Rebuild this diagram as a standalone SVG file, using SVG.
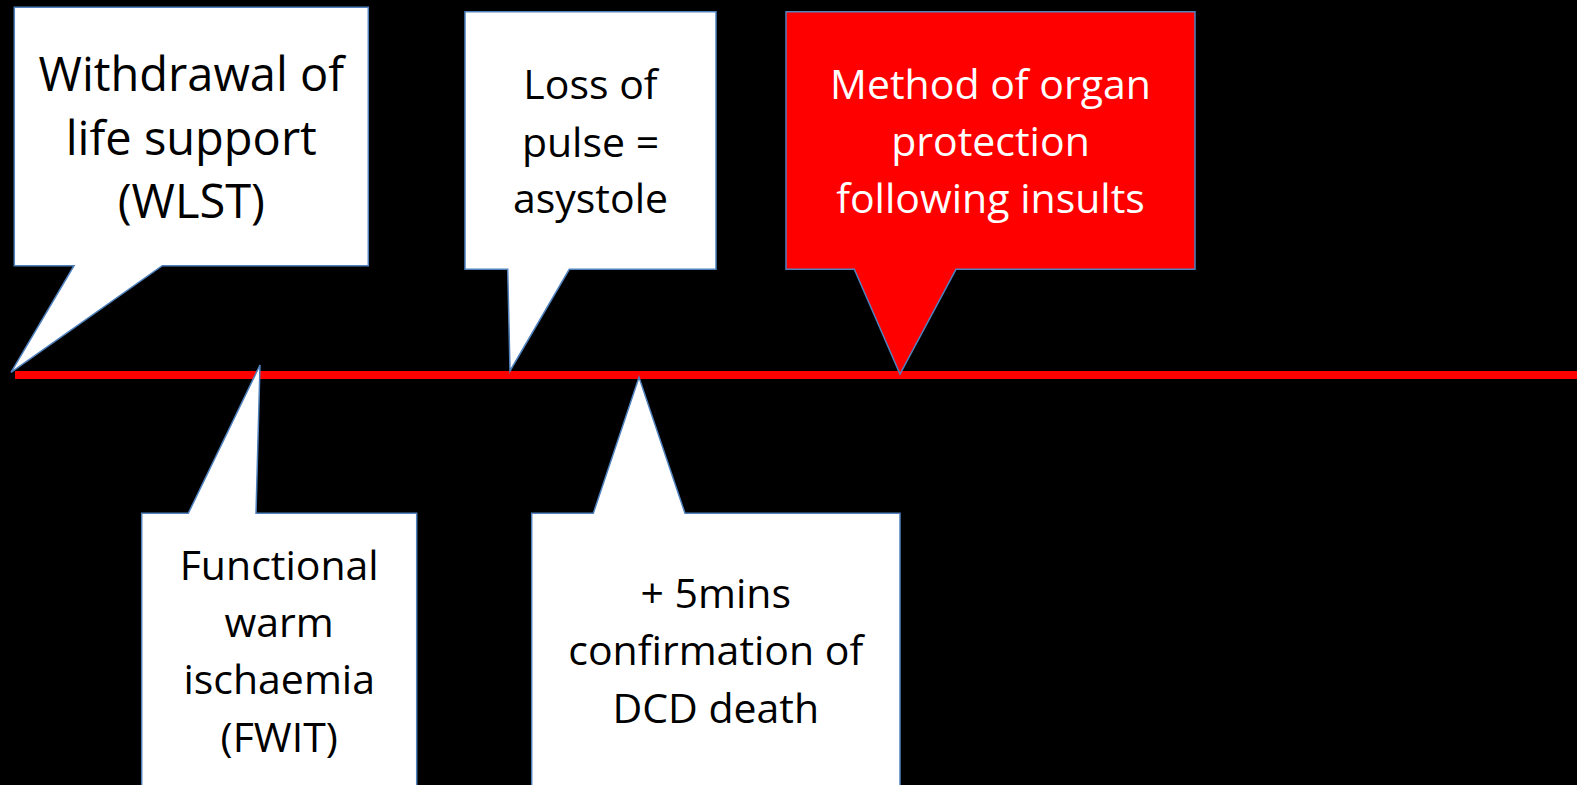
<svg xmlns="http://www.w3.org/2000/svg" width="1577" height="785" viewBox="0 0 1577 785">
<style>
.callout{fill:#FFFFFF;stroke:#4F81BD;stroke-width:1.5;stroke-linejoin:miter}
.red{fill:#FF0000}
text{font-family:"Open Sans","Liberation Sans",sans-serif;text-anchor:middle;fill:#000000}
.big{font-size:47px}
.med{font-size:41px}
.wt{fill:#FFFFFF}
</style>
<rect x="0" y="0" width="1577" height="785" fill="#000000"/>
<g id="connectors">
<line x1="15" y1="375" x2="1577" y2="375" stroke="#FF0000" stroke-width="8"/>
</g>
<g id="wlst">
<path class="callout" d="M14.3,7.3 H368.3 V265.7 H162.3 L11,372.3 L74,265.7 H14.3 Z"/>
<text class="big" x="191.3" y="90.7">Withdrawal of</text>
<text class="big" x="191.3" y="155">life support</text>
<text class="big" x="191.3" y="218">(WLST)</text>
</g>
<g id="loss-of-pulse">
<path class="callout" d="M465,11.7 H716 V269.3 H569.3 L510,371 L507.7,269.3 H465 Z"/>
<text class="med" x="590.5" y="99.3">Loss of</text>
<text class="med" x="590.5" y="156.7">pulse =</text>
<text class="med" x="590.5" y="213">asystole</text>
</g>
<g id="organ-protection">
<path class="callout red" d="M786,11.7 H1195 V269.3 H956 L900,374 L854.3,269.3 H786 Z"/>
<text class="med wt" x="990.5" y="99">Method of organ</text>
<text class="med wt" x="990.5" y="156">protection</text>
<text class="med wt" x="990.5" y="213">following insults</text>
</g>
<g id="fwit">
<path class="callout" d="M141.7,513.3 H188.3 L260,365 L256,513.3 H416.7 V800 H141.7 Z"/>
<text class="med" x="279.2" y="580">Functional</text>
<text class="med" x="279.2" y="636.7">warm</text>
<text class="med" x="279.2" y="694.3">ischaemia</text>
<text class="med" x="279.2" y="751.7">(FWIT)</text>
</g>
<g id="dcd-death">
<path class="callout" d="M531.7,513.3 H593.3 L639,377.3 L685,513.3 H900 V800 H531.7 Z"/>
<text class="med" x="715.8" y="608.3">+ 5mins</text>
<text class="med" x="715.8" y="665">confirmation of</text>
<text class="med" x="715.8" y="723.3">DCD death</text>
</g>
</svg>
